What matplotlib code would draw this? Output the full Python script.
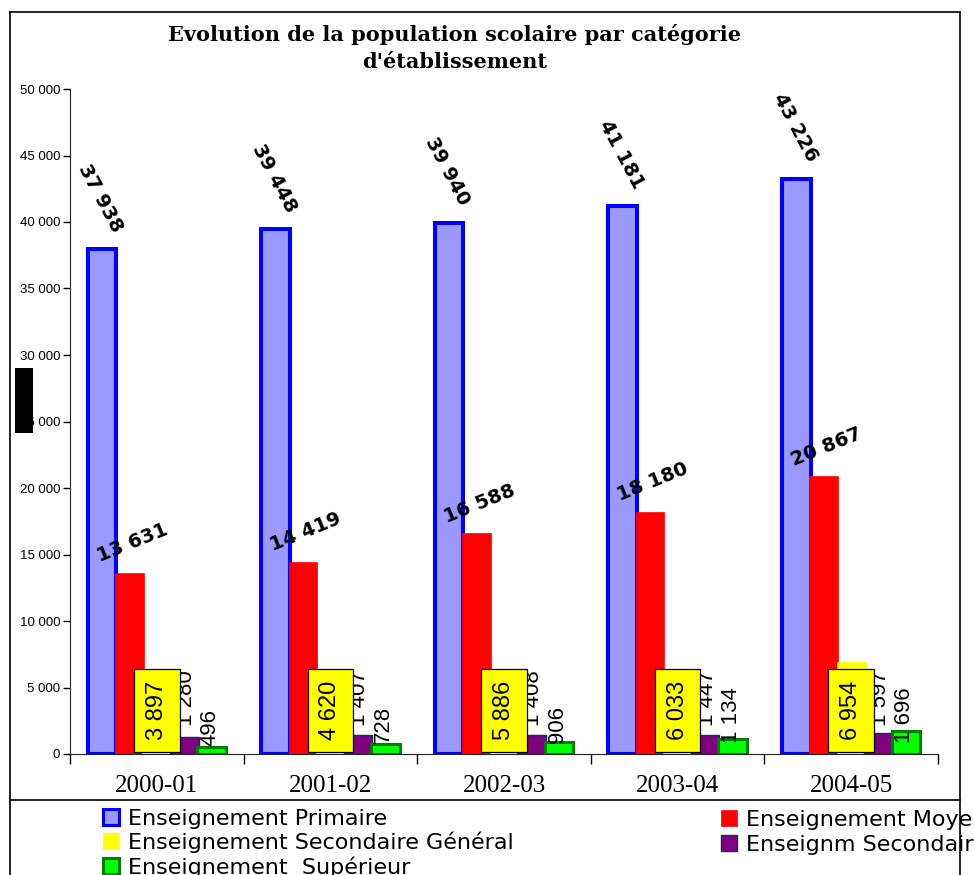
import numpy as np
import matplotlib
matplotlib.use("Agg")
import matplotlib.pyplot as plt
from matplotlib.patches import Rectangle
from matplotlib.lines import Line2D
from matplotlib.ticker import FuncFormatter, FixedLocator

# data
years = ["2000-01", "2001-02", "2002-03", "2003-04", "2004-05"]
primaire = [37938, 39448, 39940, 41181, 43226]
moyen = [13631, 14419, 16588, 18180, 20867]
sec_general = [3897, 4620, 5886, 6033, 6954]
sec_technique = [1280, 1407, 1408, 1447, 1597]
superieur = [496, 728, 906, 1134, 1696]

series_names = ["Enseignement Primaire", "Enseignement Moyen",
                "Enseignement Secondaire Général", "Enseignm Secondaire Technique",
                "Enseignement  Supérieur"]

W, H = 974, 875
fig = plt.figure(figsize=(W / 100, H / 100), dpi=100)


def fx(px):
    return px / W


def fy(py):
    return 1 - py / H


ax = fig.add_axes([fx(70), fy(754), fx(938) - fx(70), fy(89) - fy(754)])

x = np.arange(len(years))
step = 0.158
width = 0.165
styles = [
    dict(color="#9999FF", edgecolor="#0000FF", linewidth=2.9),
    dict(color="#FF0000", edgecolor="#FF0000", linewidth=0.5),
    dict(color="#FFFF00", edgecolor="#FFFF00", linewidth=0.5),
    dict(color="#800080", edgecolor="#003366", linewidth=1.0),
    dict(color="#00FF00", edgecolor="#008000", linewidth=2.2),
]
all_vals = [primaire, moyen, sec_general, sec_technique, superieur]
for i, (vals, st) in enumerate(zip(all_vals, styles)):
    ax.bar(x + (i - 2) * step, vals, width, zorder=2 + i, **st)

# value labels
for xi, v in zip(x - 2 * step, primaire):
    ax.annotate(f"{v:,}".replace(",", " "), (xi, v), xytext=(-1, 37),
                textcoords="offset points", rotation=-62, ha="center", va="center",
                fontsize=14, fontweight="bold", family="DejaVu Sans", zorder=10)
for xi, v in zip(x - step, moyen):
    ax.annotate(f"{v:,}".replace(",", " "), (xi, v), xytext=(2, 21.5),
                textcoords="offset points", rotation=22, ha="center", va="center",
                fontsize=14, fontweight="bold", family="DejaVu Sans", zorder=10)
for xi, v in zip(x, sec_general):
    ax.text(xi, 3300, f"{v:,}".replace(",", " "), rotation=90, ha="center", va="center",
            fontsize=17, family="Liberation Sans", zorder=11,
            bbox=dict(boxstyle="square,pad=0.5", fc="#FFFF00", ec="black", lw=0.9))
for xi, v in zip(x + step, sec_technique):
    ax.annotate(f"{v:,}".replace(",", " "), (xi, min(v, 1300)), xytext=(1.5, 8),
                textcoords="offset points", rotation=90, ha="center", va="bottom",
                fontsize=16, family="Liberation Sans", zorder=10)
for xi, v in zip(x + 2 * step, superieur):
    ax.annotate(f"{v:,}".replace(",", " "), (xi, min(v, 700)), xytext=(-1, 1),
                textcoords="offset points", rotation=90, ha="center", va="bottom",
                fontsize=16, family="Liberation Sans", zorder=10)

ax.set_xlim(-0.5, len(years) - 0.5)
ax.set_ylim(0, 50000)
ax.set_xticks(x)
ax.set_xticklabels(years, family="Liberation Serif", fontsize=18)
ax.xaxis.set_minor_locator(FixedLocator(np.arange(-0.5, len(years), 1.0)))
ax.tick_params(axis="x", which="major", length=0, pad=15)
ax.tick_params(axis="x", which="minor", length=7, width=1, direction="out")
ax.set_yticks(np.arange(0, 50001, 5000))
ax.yaxis.set_major_formatter(FuncFormatter(lambda v, p: f"{int(v):,}".replace(",", " ")))
ax.tick_params(axis="y", length=5, width=1, direction="out", pad=2, labelsize=9.5)
for lab in ax.get_yticklabels():
    lab.set_family("Liberation Sans")
for s in ["top", "right"]:
    ax.spines[s].set_visible(False)
for s in ["left", "bottom"]:
    ax.spines[s].set_color("#222222")

# title
fig.text(fx(454), fy(41), "Evolution de la population scolaire par catégorie",
         ha="center", va="baseline", family="DejaVu Serif", fontweight="bold", fontsize=15)
fig.text(fx(455), fy(68), "d'établissement",
         ha="center", va="baseline", family="DejaVu Serif", fontweight="bold", fontsize=15)

# frame lines
for xs, ys in [((10, 960), (12, 12)), ((10, 10), (12, 875)), ((960, 960), (12, 875)),
               ((10, 960), (800, 800))]:
    fig.add_artist(Line2D([fx(xs[0]), fx(xs[1])], [fy(ys[0]), fy(ys[1])],
                          color="black", lw=1.2, transform=fig.transFigure))

# legend
leg_pos = [(103, 817), (721, 818), (103, 841), (721, 843), (103, 866)]
for (px, py), name, st in zip(leg_pos, series_names, styles):
    lw = min(st["linewidth"], 2.2)
    fig.add_artist(Rectangle((fx(px), fy(py + 8)), fx(16), 16 / H, transform=fig.transFigure,
                             facecolor=st["color"], edgecolor=st["edgecolor"], lw=lw))
    fig.text(fx(px + 25), fy(py + 8), name, ha="left", va="baseline",
             family="DejaVu Sans", fontsize=16)

# black block over the 25 000 label
fig.add_artist(Rectangle((fx(15), fy(433)), fx(18), 65 / H, transform=fig.transFigure,
                         facecolor="black", edgecolor="none", zorder=20))

fig.savefig("out.png", dpi=100)
